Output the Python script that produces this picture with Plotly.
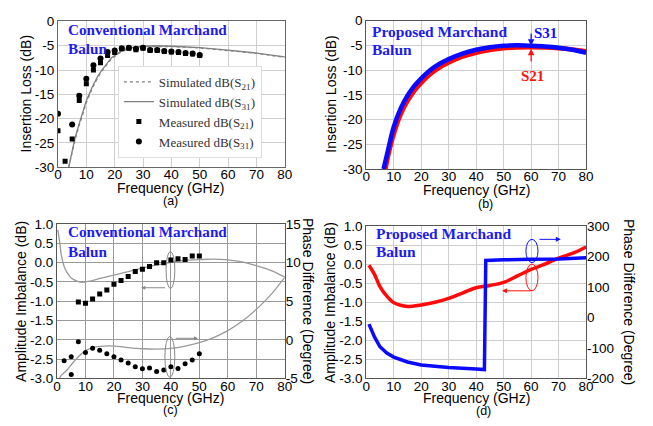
import plotly.graph_objects as go

# ---------------- data ----------------
# (a) Conventional Marchand balun - insertion loss
a_meas_f = [0, 2.5, 5, 7.5, 10, 12.5, 15, 17.5, 20, 22.5, 25, 27.5, 30, 32.5, 35, 37.5, 40, 42.5, 45, 47.5, 50]
a_meas_s21 = [-22.5, -28.8, -24.2, -16.3, -12.8, -10.0, -8.5, -7.0, -6.4, -5.6, -5.5, -5.8, -5.5, -6.0, -6.0, -6.2, -6.3, -6.4, -6.6, -6.7, -7.0]
a_meas_s31 = [-19.0, None, -21.2, -15.3, -11.8, -9.0, -7.6, -6.3, -6.0, -5.5, -5.4, -5.6, -5.4, -5.9, -5.9, -6.1, -6.2, -6.3, -6.5, -6.6, -6.9]
a_sim_f = [3.8, 5, 6, 7.5, 8.7, 10, 12, 14, 15.6, 17.5, 19, 22.5, 25, 30, 35, 40, 50, 60, 70, 80]
a_sim_s31 = [-30, -26.6, -24.0, -21.0, -18.5, -16.3, -13.6, -11.3, -9.9, -8.4, -7.4, -6.0, -5.5, -5.1, -5.0, -5.1, -5.4, -5.9, -6.5, -7.3]
a_sim_s21 = [-30, -27.0, -24.4, -21.4, -18.9, -16.7, -13.9, -11.6, -10.1, -8.6, -7.6, -6.2, -5.6, -5.2, -5.1, -5.15, -5.45, -5.95, -6.55, -7.4]

# (b) Proposed Marchand balun - insertion loss
b_f_s31 = [6.3, 8, 10, 12.5, 15, 17.5, 20, 22.5, 25, 30, 35, 40, 45, 50, 55, 60, 65, 70, 75, 80]
b_s31 = [-30, -26.0, -21.5, -17.8, -15.2, -13.2, -11.7, -10.4, -9.3, -7.8, -6.7, -5.9, -5.4, -5.1, -5.0, -5.1, -5.25, -5.5, -5.9, -6.5]
b_f_s21 = [7, 8, 10, 12.5, 15, 17.5, 20, 22.5, 25, 30, 35, 40, 45, 50, 55, 60, 65, 70, 75, 80]
b_s21 = [-30, -27.3, -23.0, -19.0, -16.3, -14.2, -12.6, -11.2, -10.1, -8.5, -7.3, -6.5, -5.95, -5.6, -5.45, -5.4, -5.45, -5.6, -5.85, -6.2]

# (c) Conventional - amplitude / phase imbalance
c_amp_meas_f = [7.5, 10, 12.5, 15, 17.5, 20, 22.5, 25, 27.5, 30, 32.5, 35, 37.5, 40, 42.5, 45, 47.5, 50]
c_amp_meas = [-1.02, -1.05, -0.94, -0.81, -0.71, -0.56, -0.46, -0.36, -0.23, -0.17, -0.10, 0.0, 0.0, 0.07, 0.10, 0.08, 0.17, 0.17]
c_ph_meas_f = [2.5, 5, 5, 7.5, 10, 12.5, 15, 17.5, 20, 22.5, 25, 27.5, 30, 32.5, 35, 37.5, 40, 42.5, 45, 47.5, 50]
c_ph_meas = [-2.7, -2.2, -4.5, -0.25, -1.65, -1.1, -1.35, -1.8, -2.2, -2.6, -3.0, -3.5, -3.75, -3.65, -4.1, -3.9, -3.5, -3.7, -3.1, -2.6, -1.8]
c_amp_sim_f = [0.3, 1, 1.5, 2.5, 3.5, 5, 7, 9, 12, 15, 20, 25, 30, 35, 40, 45, 50, 55, 60, 65, 70, 75, 80]
c_amp_sim = [0.85, 0.5, 0.2, -0.1, -0.25, -0.4, -0.48, -0.51, -0.47, -0.41, -0.32, -0.23, -0.14, -0.06, 0.01, 0.06, 0.08, 0.09, 0.07, 0.02, -0.08, -0.2, -0.37]
c_ph_sim_f = [0.8, 1.5, 3, 4.4, 6, 7.5, 10, 12.5, 15, 20, 25, 30, 35, 40, 45, 50, 55, 60, 65, 70, 75, 80]
c_ph_sim = [-5, -4.6, -4.1, -3.5, -2.8, -2.2, -1.4, -1.0, -0.85, -0.8, -1.0, -1.15, -1.2, -1.1, -0.8, -0.35, 0.3, 1.2, 2.4, 3.95, 5.8, 8.1]

# (d) Proposed - amplitude / phase imbalance
d_amp_f = [1, 3, 5, 7.5, 10, 12.5, 15, 20, 25, 30, 35, 40, 45, 50, 55, 60, 65, 70, 75, 80]
d_amp = [-0.03, -0.27, -0.59, -0.84, -1.01, -1.08, -1.11, -1.07, -1.0, -0.9, -0.76, -0.62, -0.56, -0.48, -0.31, -0.14, 0.0, 0.16, 0.28, 0.45]
d_ph_f = [1, 3, 5, 7.5, 10, 15, 20, 30, 40, 43, 43.5, 44, 50, 60, 70, 80]
d_ph = [-22, -64, -96, -117, -130, -146, -156, -164, -169, -171, 187, 187, 189, 191, 192, 196]

# tick labels
il_ticks = [0, -5, -10, -15, -20, -25, -30]
il_text = ["0", "-5", "-10", "-15", "-20", "-25", "-30"]
amp_ticks = [1.0, 0.5, 0.0, -0.5, -1.0, -1.5, -2.0, -2.5, -3.0]
amp_text = ["1.0", "0.5", "0.0", "-0.5", "-1.0", "-1.5", "-2.0", "-2.5", "-3.0"]
c_ph_ticks = [15, 10, 5, 0, -5]
c_ph_text = ["15", "10", "5", "0", "-5"]
d_ph_ticks = [300, 200, 100, 0, -100, -200]
d_ph_text = ["300", "200", "100", "0", "-100", "-200"]
f_ticks = [0, 10, 20, 30, 40, 50, 60, 70, 80]

W, H = 653, 426
def px(x):
    return x / W
def py(y):
    return 1 - y / H

SANS = "Liberation Sans, Arial, sans-serif"
SERIF = "Liberation Serif, Times New Roman, serif"
TITLE_BLUE = "#1c1cf0"
GRAY = "#808080"

fig = go.Figure()

# ---- (a)
fig.add_trace(go.Scatter(x=a_sim_f, y=a_sim_s21, mode="lines", xaxis="x", yaxis="y",
                         line=dict(color=GRAY, width=1.3, dash="dot"),
                         name="Simulated dB(S<sub>21</sub>)"))
fig.add_trace(go.Scatter(x=a_sim_f, y=a_sim_s31, mode="lines", xaxis="x", yaxis="y",
                         line=dict(color=GRAY, width=1.3),
                         name="Simulated dB(S<sub>31</sub>)"))
fig.add_trace(go.Scatter(x=a_meas_f, y=a_meas_s21, mode="markers", xaxis="x", yaxis="y",
                         marker=dict(symbol="square", size=5, color="black"),
                         name="Measured dB(S<sub>21</sub>)"))
fig.add_trace(go.Scatter(x=a_meas_f, y=a_meas_s31, mode="markers", xaxis="x", yaxis="y",
                         marker=dict(symbol="circle", size=6, color="black"),
                         name="Measured dB(S<sub>31</sub>)"))

# ---- (b)
fig.add_trace(go.Scatter(x=b_f_s21, y=b_s21, mode="lines", xaxis="x2", yaxis="y2",
                         line=dict(color="#ff0a0a", width=4.5, shape="spline"), showlegend=False))
fig.add_trace(go.Scatter(x=b_f_s31, y=b_s31, mode="lines", xaxis="x2", yaxis="y2",
                         line=dict(color="#0a0aff", width=4.5, shape="spline"), showlegend=False))

# ---- (c)
fig.add_trace(go.Scatter(x=c_amp_sim_f, y=c_amp_sim, mode="lines", xaxis="x3", yaxis="y3",
                         line=dict(color="#999999", width=1.3, shape="spline"), showlegend=False))
fig.add_trace(go.Scatter(x=c_amp_meas_f, y=c_amp_meas, mode="markers", xaxis="x3", yaxis="y3",
                         marker=dict(symbol="square", size=5, color="black"), showlegend=False))
fig.add_trace(go.Scatter(x=c_ph_sim_f, y=c_ph_sim, mode="lines", xaxis="x3", yaxis="y5",
                         line=dict(color="#999999", width=1.3, shape="spline"), showlegend=False))
fig.add_trace(go.Scatter(x=c_ph_meas_f, y=c_ph_meas, mode="markers", xaxis="x3", yaxis="y5",
                         marker=dict(symbol="circle", size=5, color="black"), showlegend=False))

# ---- (d)
fig.add_trace(go.Scatter(x=d_amp_f, y=d_amp, mode="lines", xaxis="x4", yaxis="y4",
                         line=dict(color="#ff0a0a", width=3.5, shape="spline"), showlegend=False))
fig.add_trace(go.Scatter(x=d_ph_f, y=d_ph, mode="lines", xaxis="x4", yaxis="y6",
                         line=dict(color="#0a0aff", width=3.5), showlegend=False))

tickfont = dict(family=SANS, size=13.5, color="black")

def xax(domain, anchor, grid, line):
    return dict(domain=domain, anchor=anchor, range=[0, 80], tickvals=f_ticks,
                showgrid=True, gridcolor=grid, gridwidth=1, zeroline=False,
                showline=True, linecolor=line, linewidth=1.2, mirror=True,
                ticks="", tickfont=tickfont, fixedrange=True, ticklabelstandoff=-5)

def yax(domain, anchor, rng, tv, tt, grid, line):
    return dict(domain=domain, anchor=anchor, range=rng, tickvals=tv, ticktext=tt,
                showgrid=True, gridcolor=grid, gridwidth=1, zeroline=False,
                showline=True, linecolor=line, linewidth=1.2, mirror=True,
                ticks="", tickfont=tickfont, fixedrange=True)

fig.update_layout(
    width=W, height=H, autosize=False,
    margin=dict(l=0, r=0, t=0, b=0),
    paper_bgcolor="white", plot_bgcolor="white",
    xaxis=xax([px(55), px(286)], "y", "#cfcfcf", "#666666"),
    yaxis=yax([py(166), py(15)], "x", [-30, 0], il_ticks, il_text, "#cfcfcf", "#666666"),
    xaxis2=xax([px(369), px(593)], "y2", "#cfcfcf", "#555555"),
    yaxis2=yax([py(168), py(14)], "x2", [-30, 0], il_ticks, il_text, "#cfcfcf", "#555555"),
    xaxis3=xax([px(54), px(286)], "y3", "#9a9a9a", "#555555"),
    yaxis3=yax([py(385), py(225)], "x3", [-3, 1], amp_ticks, amp_text, "#9a9a9a", "#555555"),
    yaxis5=dict(overlaying="y3", side="right", anchor="x3", range=[-5, 15],
                tickvals=c_ph_ticks, ticktext=c_ph_text, showgrid=False, zeroline=False,
                showline=False, ticks="", tickfont=tickfont, fixedrange=True),
    xaxis4=xax([px(369), px(593)], "y4", "#cfcfcf", "#555555"),
    yaxis4=yax([py(385), py(227)], "x4", [-3, 1], amp_ticks, amp_text, "#cfcfcf", "#555555"),
    yaxis6=dict(overlaying="y4", side="right", anchor="x4", range=[-200, 300],
                tickvals=d_ph_ticks, ticktext=d_ph_text, showgrid=False, zeroline=False,
                showline=False, ticks="", tickfont=tickfont, fixedrange=True),
    legend=dict(x=px(116), y=py(61), xanchor="left", yanchor="top",
                bgcolor="white", bordercolor="#dddddd", borderwidth=1,
                font=dict(family=SERIF, size=13, color="#333333"),
                tracegroupgap=0, itemwidth=30),
    showlegend=True,
)

ann = []
def txt(x, y, s, size=14, family=SANS, color="black", angle=0, bold=False, xanchor="center", yanchor="middle"):
    if bold:
        s = "<b>" + s + "</b>"
    ann.append(dict(x=px(x), y=py(y), xref="paper", yref="paper", text=s, showarrow=False,
                    textangle=angle, xanchor=xanchor, yanchor=yanchor,
                    font=dict(family=family, size=size, color=color)))

# panel titles
txt(63, 23, "Conventional Marchand", 15.2, SERIF, TITLE_BLUE, bold=True, xanchor="left")
txt(63, 43, "Balun", 15.2, SERIF, TITLE_BLUE, bold=True, xanchor="left")
txt(373, 25, "Proposed Marchand", 15.5, SERIF, TITLE_BLUE, bold=True, xanchor="left")
txt(373, 44, "Balun", 15.5, SERIF, TITLE_BLUE, bold=True, xanchor="left")
txt(63, 233, "Conventional Marchand", 15.2, SERIF, TITLE_BLUE, bold=True, xanchor="left")
txt(63, 253, "Balun", 15.2, SERIF, TITLE_BLUE, bold=True, xanchor="left")
txt(377, 235, "Proposed Marchand", 15.5, SERIF, TITLE_BLUE, bold=True, xanchor="left")
txt(377, 253, "Balun", 15.5, SERIF, TITLE_BLUE, bold=True, xanchor="left")

# axis titles
txt(170, 188, "Frequency (GHz)")
txt(170, 201, "(a)", 12.5)
txt(481, 190, "Frequency (GHz)")
txt(491, 204, "(b)", 12.5)
txt(170, 405, "Frequency (GHz)")
txt(170, 418, "(c)", 12.5)
txt(481, 405, "Frequency (GHz)")
txt(488, 419, "(d)", 12.5)
txt(22, 90, "Insertion Loss (dB)", angle=-90)
txt(333, 90, "Insertion Loss (dB)", angle=-90)
txt(18, 305, "Amplitude Imbalance (dB)", angle=-90)
txt(309, 305, "Phase Difference (Degree)", angle=90)
txt(332, 306, "Amplitude Imbalance (dB)", angle=-90)
txt(636, 306, "Phase Difference (Degree)", angle=90)

# S31 / S21 labels in (b)
ann.append(dict(x=60, y=-5.1, xref="x2", yref="y2", ax=60, ay=-2.3, axref="x2", ayref="y2",
                text="", showarrow=True, arrowhead=2, arrowsize=1, arrowwidth=1.3, arrowcolor="#1010ff"))
ann.append(dict(x=60, y=-5.7, xref="x2", yref="y2", ax=60, ay=-8.6, axref="x2", ayref="y2",
                text="", showarrow=True, arrowhead=2, arrowsize=1, arrowwidth=1.3, arrowcolor="#ff1010"))
txt(552, 27, "S31", 15, SERIF, "#1010ff", bold=True)
txt(538, 72, "S21", 15, SERIF, "#ff1010", bold=True)

# arrows in (c)
ann.append(dict(x=29.6, y=-0.65, xref="x3", yref="y3", ax=38.5, ay=-0.65, axref="x3", ayref="y3",
                text="", showarrow=True, arrowhead=2, arrowsize=0.8, arrowwidth=1, arrowcolor="#888888"))
ann.append(dict(x=49.5, y=-1.96, xref="x3", yref="y3", ax=41.2, ay=-1.96, axref="x3", ayref="y3",
                text="", showarrow=True, arrowhead=2, arrowsize=0.8, arrowwidth=1, arrowcolor="#888888"))
# arrows in (d)
ann.append(dict(x=70.8, y=0.65, xref="x4", yref="y4", ax=62.5, ay=0.65, axref="x4", ayref="y4",
                text="", showarrow=True, arrowhead=2, arrowsize=1, arrowwidth=1, arrowcolor="#1010ff"))
ann.append(dict(x=49.4, y=-0.70, xref="x4", yref="y4", ax=60.5, ay=-0.70, axref="x4", ayref="y4",
                text="", showarrow=True, arrowhead=2, arrowsize=1, arrowwidth=1, arrowcolor="#ff1010"))

fig.update_layout(annotations=ann)

shapes = [
    dict(type="circle", xref="x3", yref="y3", x0=38.3, x1=41.4, y0=-0.67, y1=0.29,
         line=dict(color="#888888", width=1)),
    dict(type="circle", xref="x3", yref="y3", x0=37.9, x1=41.4, y0=-2.97, y1=-1.91,
         line=dict(color="#888888", width=1)),
    dict(type="circle", xref="x4", yref="y4", x0=58.1, x1=62.5, y0=0.04, y1=0.65,
         line=dict(color="#1010ff", width=1)),
    dict(type="circle", xref="x4", yref="y4", x0=58.1, x1=62.5, y0=-0.70, y1=0.0,
         line=dict(color="#ff1010", width=1)),
]
fig.update_layout(shapes=shapes)

fig.write_html("out.html", config={"displayModeBar": False},
               post_script="document.body.style.margin='0';document.body.style.overflow='hidden';")
